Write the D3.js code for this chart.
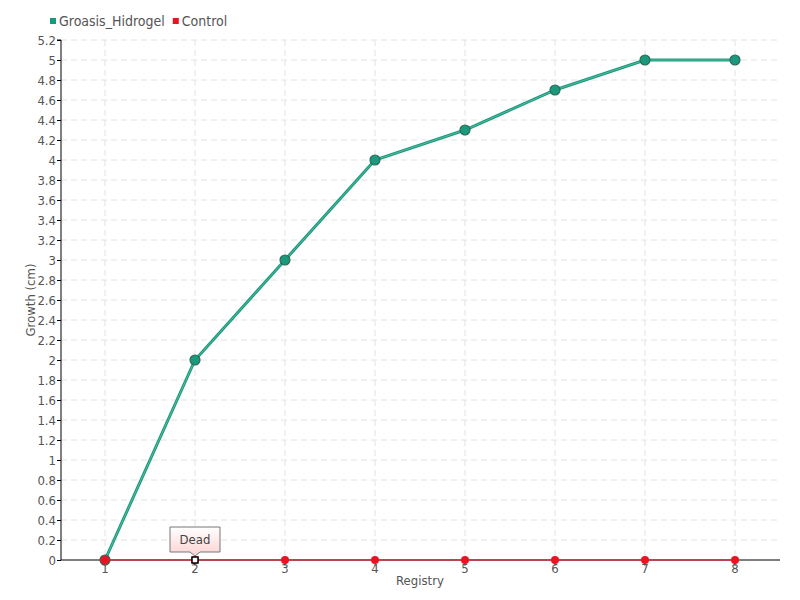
<!DOCTYPE html>
<html><head><meta charset="utf-8">
<script src="https://cdn.jsdelivr.net/npm/d3@7"></script>
<style>body{margin:0;background:#fff;}text{font-family:"DejaVu Sans Condensed","DejaVu Sans",sans-serif;}</style>
</head><body><svg id="c" width="800" height="600"></svg>
<script>
const categories = ["1","2","3","4","5","6","7","8"];
const groasis = [0, 2, 3, 4, 4.3, 4.7, 5, 5];
const control = [0, 0, 0, 0, 0, 0, 0, 0];
const yTicks = d3.range(0, 27).map(i => +(i*0.2).toFixed(1));
const seriesNames = ["Groasis_Hidrogel", "Control"];
const annotation = {index: 1, label: "Dead"};

const svg = d3.select("#c");
const L = 61, R = 780, T = 40, B = 560;
const x = d3.scaleBand().domain(categories).range([60, 780]);
const xc = c => x(c) + x.bandwidth()/2;
const y = d3.scaleLinear().domain([0, 5.2]).range([B, T]);

// grid
svg.append("g").selectAll("line").data(yTicks.filter(d=>d>0)).join("line")
  .attr("x1", L).attr("x2", R).attr("y1", d=>y(d)).attr("y2", d=>y(d))
  .attr("stroke", "#e2e2e2").attr("stroke-dasharray", "6,4");
svg.append("g").selectAll("line").data(categories).join("line")
  .attr("x1", d=>xc(d)).attr("x2", d=>xc(d)).attr("y1", T).attr("y2", B)
  .attr("stroke", "#e2e2e2").attr("stroke-dasharray", "6,4");

// axes
const yAxis = d3.axisLeft(y).tickValues(yTicks).tickSize(4).tickFormat(d3.format("~g"));
const gy = svg.append("g").attr("transform", `translate(${L},0)`).call(yAxis);
gy.select(".domain").attr("stroke", "#000").attr("d", `M-4,${T}H0V${B}`);
gy.selectAll(".tick line").attr("stroke", "#000");
gy.selectAll(".tick text").attr("font-size", 13).attr("fill", "#555").attr("x", -5);

const xAxis = d3.axisBottom(x).tickSize(6).tickSizeOuter(0);
const gx = svg.append("g").attr("transform", `translate(0,${B})`).call(xAxis);
gx.select(".domain").attr("stroke", "#000").attr("d", `M${L},0H${R}`);
gx.selectAll(".tick line").attr("stroke", "#666");
gx.selectAll(".tick text").attr("font-size", 13).attr("fill", "#555").attr("dy", "0.3em");

svg.append("text").attr("x", 420).attr("y", 585).attr("text-anchor","middle")
  .attr("font-size", 13).attr("fill", "#555").text("Registry");
svg.append("text").attr("transform", "translate(35,300) rotate(-90)").attr("text-anchor","middle")
  .attr("font-size", 13).attr("fill", "#555").text("Growth (cm)");

// series
const line = d3.line().x((d,i)=>xc(categories[i])).y(d=>y(d));
svg.append("path").datum(control).attr("d", line).attr("fill","none")
  .attr("stroke", "#ee1122").attr("stroke-width", 1.2);
svg.append("path").datum(groasis).attr("d", line).attr("fill","none")
  .attr("stroke", "#1a9a7c").attr("stroke-width", 3);
svg.append("path").datum(groasis).attr("d", line).attr("fill","none")
  .attr("stroke", "#6cc7ae").attr("stroke-width", 0.7);

svg.append("g").selectAll("circle").data(control).join("circle")
  .attr("cx", (d,i)=>xc(categories[i])).attr("cy", d=>y(d)).attr("r", 4)
  .attr("fill", "#ee1122");
svg.append("g").selectAll("circle").data(groasis).join("circle")
  .attr("cx", (d,i)=>xc(categories[i])).attr("cy", d=>y(d)).attr("r", 5)
  .attr("fill", "#1a9a7c").attr("stroke", "#2f6a57").attr("stroke-width", 1.2);
// control first point on top
svg.append("circle").attr("cx", xc(categories[0])).attr("cy", y(control[0])).attr("r", 4.5)
  .attr("fill", "#ee1122").attr("stroke","#884444").attr("stroke-width",1);

// annotation
const ax = xc(categories[annotation.index]), ay = y(control[annotation.index]);
svg.append("rect").attr("x", ax-3).attr("y", ay-3).attr("width", 6).attr("height", 6)
  .attr("fill", "#fff").attr("stroke", "#000").attr("stroke-width", 1.5);
const defs = svg.append("defs");
const grad = defs.append("linearGradient").attr("id","g1").attr("x1",0).attr("y1",0).attr("x2",0).attr("y2",1);
grad.append("stop").attr("offset","0").attr("stop-color","#ffffff");
grad.append("stop").attr("offset","1").attr("stop-color","#fcd2d2");
const bx = ax-25, by = ay-33, bw = 50, bh = 25;
svg.append("path").attr("d", `M${bx},${by}H${bx+bw}V${by+bh}H${ax+5}L${ax},${ay-4}L${ax-5},${by+bh}H${bx}Z`)
  .attr("fill","url(#g1)").attr("stroke","#777").attr("stroke-width",1);
svg.append("text").attr("x", ax).attr("y", by+17).attr("text-anchor","middle")
  .attr("font-size", 13).attr("fill","#444").text(annotation.label);

// legend
const colors = ["#1a9a7c", "#ee1122"];
const lg = svg.append("g");
let lx = 50;
seriesNames.forEach((n,i)=>{
  lg.append("rect").attr("x", lx).attr("y", 18).attr("width", 6).attr("height", 6).attr("fill", colors[i]);
  const t = lg.append("text").attr("x", lx+9).attr("y", 26).attr("font-size", 14).attr("fill","#555").text(n);
  lx += 9 + t.node().getComputedTextLength() + 8;
});
</script></body></html>
